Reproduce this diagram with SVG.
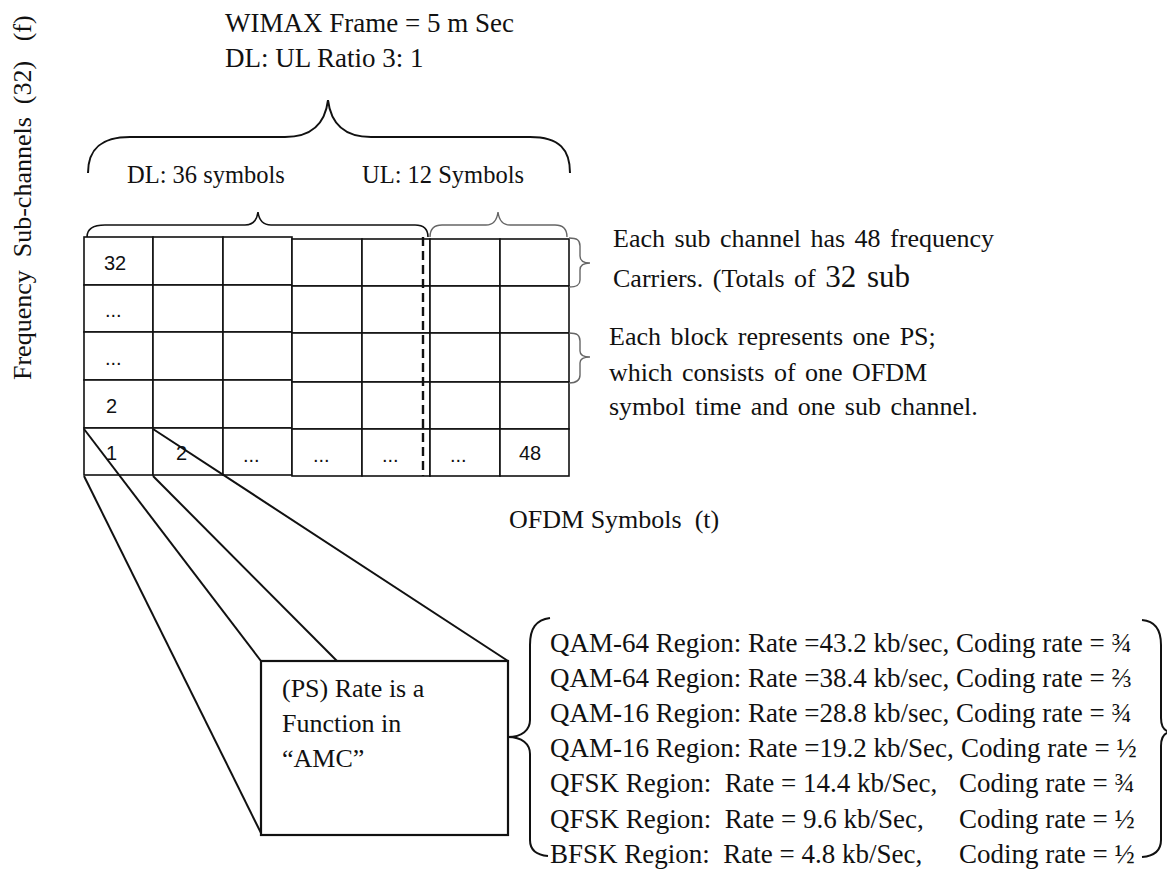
<svg xmlns="http://www.w3.org/2000/svg" width="1167" height="871" viewBox="0 0 1167 871">
<style>
.t{font-family:"Liberation Serif","Times New Roman",serif;font-size:27px;fill:#111;white-space:pre}
.s{font-family:"Liberation Sans",Arial,sans-serif;font-size:20px;fill:#111}
.n{font-family:"Liberation Serif","Times New Roman",serif;font-size:26px;fill:#111;white-space:pre;word-spacing:3px}
.cell{fill:#fff;stroke:#111;stroke-width:1.6}
.br{fill:none;stroke:#111;stroke-width:2}
.gbr{fill:none;stroke:#666;stroke-width:1.4}
.ln{stroke:#111;stroke-width:2;fill:none}
</style>
<rect width="1167" height="871" fill="#fff"/>

<g id="axis-label">
<text class="t" style="font-size:26px" transform="translate(31,380) rotate(-90)">Frequency  Sub-channels  (32)   (f)</text>
</g>

<g id="frame-title">
<text class="t" x="225" y="32">WIMAX Frame = 5 m Sec</text>
<text class="t" x="225" y="67">DL: UL Ratio 3: 1</text>
</g>

<g id="frame-brace">
<path class="br" d="M88,173 C88,150 100,137 130,137 L285,137 C310,137 325,125 328,100 C331,125 346,137 371,137 L530,137 C560,137 570,150 570,173"/>
</g>

<g id="dl-label">
<text class="t" style="font-size:24.5px" x="127" y="183">DL: 36 symbols</text>
<path class="br" style="stroke-width:1.6" d="M87,237 C87,229 93,225 105,225 L245,225 C253,225 257,220 258,212 C259,220 263,225 271,225 L415,225 C424,225 428,230 428,237"/>
</g>

<g id="ul-label">
<text class="t" style="font-size:24.5px" x="362" y="183">UL: 12 Symbols</text>
<path class="gbr" d="M430,237 C430,229 434,225 442,225 L486,225 C494,225 497,220 498,212 C499,220 502,225 510,225 L555,225 C563,225 567,229 567,237"/>
</g>

<g id="grid">
<rect class="cell" x="84" y="237" width="69" height="48"/>
<rect class="cell" x="153" y="237" width="70" height="48"/>
<rect class="cell" x="223" y="237" width="69" height="48"/>
<rect class="cell" x="84" y="285" width="69" height="47"/>
<rect class="cell" x="153" y="285" width="70" height="47"/>
<rect class="cell" x="223" y="285" width="69" height="47"/>
<rect class="cell" x="84" y="332" width="69" height="48"/>
<rect class="cell" x="153" y="332" width="70" height="48"/>
<rect class="cell" x="223" y="332" width="69" height="48"/>
<rect class="cell" x="84" y="380" width="69" height="48"/>
<rect class="cell" x="153" y="380" width="70" height="48"/>
<rect class="cell" x="223" y="380" width="69" height="48"/>
<rect class="cell" x="84" y="428" width="69" height="47"/>
<rect class="cell" x="153" y="428" width="70" height="47"/>
<rect class="cell" x="223" y="428" width="69" height="47"/>
<rect class="cell" x="292" y="239" width="70" height="47"/>
<rect class="cell" x="362" y="239" width="68" height="47"/>
<rect class="cell" x="430" y="239" width="70" height="47"/>
<rect class="cell" x="500" y="239" width="69" height="47"/>
<rect class="cell" x="292" y="286" width="70" height="47"/>
<rect class="cell" x="362" y="286" width="68" height="47"/>
<rect class="cell" x="430" y="286" width="70" height="47"/>
<rect class="cell" x="500" y="286" width="69" height="47"/>
<rect class="cell" x="292" y="333" width="70" height="49"/>
<rect class="cell" x="362" y="333" width="68" height="49"/>
<rect class="cell" x="430" y="333" width="70" height="49"/>
<rect class="cell" x="500" y="333" width="69" height="49"/>
<rect class="cell" x="292" y="382" width="70" height="47"/>
<rect class="cell" x="362" y="382" width="68" height="47"/>
<rect class="cell" x="430" y="382" width="70" height="47"/>
<rect class="cell" x="500" y="382" width="69" height="47"/>
<rect class="cell" x="292" y="429" width="70" height="47"/>
<rect class="cell" x="362" y="429" width="68" height="47"/>
<rect class="cell" x="430" y="429" width="70" height="47"/>
<rect class="cell" x="500" y="429" width="69" height="47"/>
<line x1="423" y1="237" x2="423" y2="476" stroke="#111" stroke-width="2.4" stroke-dasharray="9,5"/>
<text class="s" x="104" y="270">32</text>
<text class="s" x="105" y="317">...</text>
<text class="s" x="105" y="365">...</text>
<text class="s" x="106" y="413">2</text>
<text class="s" x="106" y="460">1</text>
<text class="s" x="176" y="460">2</text>
<text class="s" x="243" y="462">...</text>
<text class="s" x="313" y="462">...</text>
<text class="s" x="382" y="462">...</text>
<text class="s" x="450" y="462">...</text>
<text class="s" x="519" y="460">48</text>
</g>

<g id="subchannel-note">
<path class="gbr" d="M569,238 C577,238 580,240 580,246 L580,256 C580,261 583,263 590,263 C583,263 580,265 580,270 L580,280 C580,285 577,287 569,287"/>
<text class="n" x="613" y="247">Each sub channel has 48 frequency</text>
<text class="n" x="613" y="287">Carriers. (Totals of <tspan style="font-size:31px">32 sub</tspan></text>
</g>

<g id="block-note">
<path class="gbr" d="M569,333 C577,333 580,335 580,341 L580,351 C580,355 583,357 590,357 C583,357 580,359 580,363 L580,375 C580,380 577,383 569,383"/>
<text class="n" x="609" y="345">Each block represents one PS;</text>
<text class="n" x="609" y="381">which consists of one OFDM</text>
<text class="n" x="609" y="415">symbol time and one sub channel.</text>
</g>

<g id="time-label">
<text class="t" style="font-size:26px" x="509" y="528">OFDM Symbols  (t)</text>
</g>

<g id="connectors">
<line class="ln" x1="84" y1="429" x2="261" y2="661"/>
<line class="ln" x1="153" y1="429" x2="508" y2="661"/>
<line class="ln" x1="84" y1="476" x2="261" y2="833"/>
<line class="ln" x1="153" y1="476" x2="337" y2="661"/>
</g>

<g id="ps-box">
<rect x="261" y="661" width="247" height="174" fill="#fff" stroke="#111" stroke-width="2.2"/>
<text class="t" style="font-size:26px" x="282" y="697">(PS) Rate is a</text>
<text class="t" style="font-size:26px" x="282" y="732">Function in</text>
<text class="t" style="font-size:26px" x="282" y="767">“AMC”</text>
</g>

<g id="amc-list">
<path class="br" d="M550,618 C536,620 530,628 530,645 L530,720 C530,730 522,737 508,737 C522,737 530,744 530,754 L530,840 C530,850 536,855 548,856"/>
<path class="br" d="M1142,620 C1155,621 1161,630 1161,645 L1161,718 C1161,727 1164,731 1170,732 C1164,733 1161,737 1161,746 L1161,840 C1161,850 1155,856 1142,857"/>
<text class="t" x="550" y="652">QAM-64 Region: Rate =43.2 kb/sec,<tspan x="956">Coding rate = ¾</tspan></text>
<text class="t" x="550" y="687">QAM-64 Region: Rate =38.4 kb/sec,<tspan x="956">Coding rate = ⅔</tspan></text>
<text class="t" x="550" y="722">QAM-16 Region: Rate =28.8 kb/sec,<tspan x="956">Coding rate = ¾</tspan></text>
<text class="t" x="550" y="757">QAM-16 Region: Rate =19.2 kb/Sec,<tspan x="961">Coding rate = ½</tspan></text>
<text class="t" x="550" y="792">QFSK Region:  Rate = 14.4 kb/Sec,<tspan x="959">Coding rate = ¾</tspan></text>
<text class="t" x="550" y="828">QFSK Region:  Rate = 9.6 kb/Sec,<tspan x="959">Coding rate = ½</tspan></text>
<text class="t" x="550" y="863">BFSK Region:  Rate = 4.8 kb/Sec,<tspan x="959">Coding rate = ½</tspan></text>
</g>
</svg>
